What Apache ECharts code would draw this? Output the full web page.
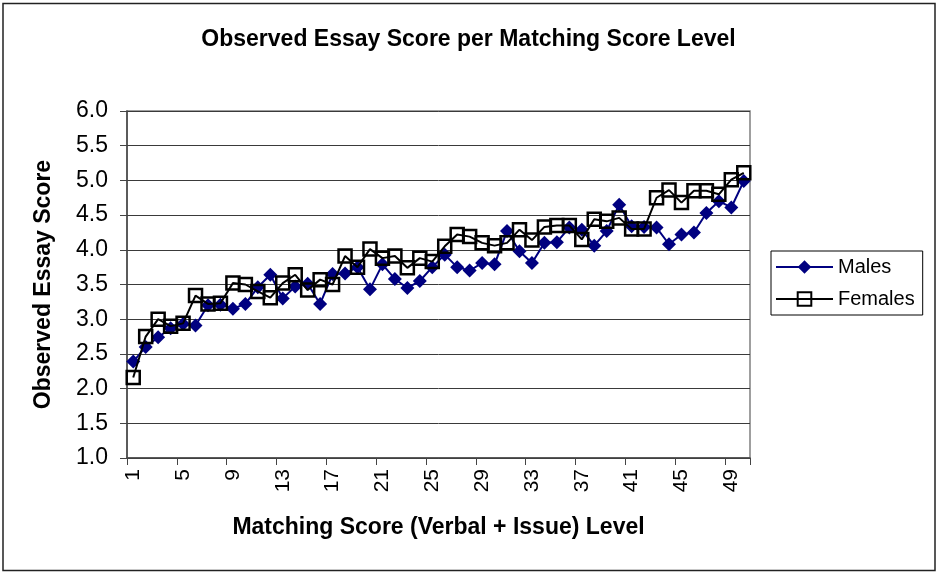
<!DOCTYPE html>
<html>
<head>
<meta charset="utf-8">
<script src="https://cdn.jsdelivr.net/npm/echarts@6/dist/echarts.min.js"></script>
<style>
html,body{margin:0;padding:0;background:#fff;}
#chart{width:937px;height:572px;}
</style>
</head>
<body>
<div id="chart"></div>
<script>
const categories = [];
for (let i = 1; i <= 50; i++) categories.push(String(i));

const males = [2.39,2.60,2.74,2.87,2.93,2.91,3.20,3.21,3.15,3.22,
               3.46,3.64,3.30,3.47,3.51,3.22,3.65,3.66,3.75,3.43,
               3.79,3.58,3.45,3.55,3.75,3.93,3.75,3.70,3.81,3.79,
               4.27,3.98,3.81,4.10,4.11,4.32,4.29,4.06,4.27,4.65,
               4.34,4.33,4.32,4.08,4.22,4.25,4.53,4.70,4.61,4.99];

const females = [2.16,2.75,3.00,2.90,2.94,3.34,3.22,3.23,3.52,3.50,
                 3.40,3.31,3.52,3.64,3.42,3.57,3.50,3.91,3.75,4.01,
                 3.88,3.91,3.74,3.88,3.83,4.05,4.22,4.19,4.10,4.06,
                 4.10,4.29,4.14,4.33,4.35,4.35,4.15,4.44,4.41,4.46,
                 4.30,4.30,4.75,4.86,4.68,4.85,4.85,4.80,5.01,5.11];

const FONT = '"Liberation Sans", Arial, sans-serif';
const chart = echarts.init(document.getElementById('chart'), null, {renderer: 'canvas'});
chart.setOption({
  backgroundColor: '#fff',
  animation: false,
  textStyle: {fontFamily: FONT, color: '#000'},
  title: {
    text: 'Observed Essay Score per Matching Score Level',
    left: 'center',
    top: 23,
    textStyle: {fontFamily: FONT, fontSize: 23, fontWeight: 'bold', color: '#000'}
  },
  graphic: [{
    type: 'rect',
    shape: {x: 3, y: 3.5, width: 932, height: 567},
    style: {fill: 'none', stroke: '#222', lineWidth: 1.5},
    silent: true, z: -1
  }],
  legend: {
    orient: 'vertical',
    left: 771, top: 251,
    padding: [6, 8, 6, 4],
    itemGap: 12,
    itemWidth: 57, itemHeight: 17,
    borderColor: '#000', borderWidth: 1,
    lineStyle: {width: 2},
    textStyle: {fontFamily: FONT, fontSize: 20, color: '#000'},
    data: ['Males', 'Females']
  },
  grid: {
    left: 127, right: 187, top: 111, bottom: 114,
    show: true, borderColor: '#808080', borderWidth: 1.5, backgroundColor: '#fff'
  },
  xAxis: {
    type: 'category',
    data: categories,
    boundaryGap: true,
    name: 'Matching Score (Verbal + Issue) Level',
    nameLocation: 'middle',
    nameGap: 58,
    nameTextStyle: {fontFamily: FONT, fontSize: 23, fontWeight: 'bold', color: '#000'},
    axisLine: {lineStyle: {color: '#444', width: 1.5}},
    axisTick: {show: true, interval: 3, length: 7, inside: false, lineStyle: {color: '#444'}},
    axisLabel: {interval: 3, rotate: 90, margin: 11, fontSize: 21, color: '#000', fontFamily: FONT},
    splitLine: {show: false}
  },
  yAxis: {
    type: 'value',
    min: 1, max: 6, interval: 0.5,
    name: 'Observed Essay Score',
    nameLocation: 'middle',
    nameGap: 72,
    nameRotate: 90,
    nameTextStyle: {fontFamily: FONT, fontSize: 23, fontWeight: 'bold', color: '#000'},
    axisLine: {show: true, lineStyle: {color: '#444', width: 1.5}},
    axisTick: {show: true, length: 7, lineStyle: {color: '#444'}},
    axisLabel: {margin: 19, fontSize: 23, color: '#000', fontFamily: FONT,
      formatter: v => v.toFixed(1)},
    splitLine: {show: true, lineStyle: {color: '#3a3a3a', width: 1}}
  },
  series: [
    {
      name: 'Males',
      type: 'line',
      data: males,
      symbol: 'diamond',
      symbolSize: 14,
      showAllSymbol: true,
      lineStyle: {color: '#000080', width: 2},
      itemStyle: {color: '#000080', borderWidth: 0},
      z: 2
    },
    {
      name: 'Females',
      type: 'line',
      data: females,
      symbol: 'rect',
      symbolSize: 13,
      showAllSymbol: true,
      lineStyle: {color: '#000', width: 2},
      itemStyle: {color: 'rgba(0,0,0,0)', borderColor: '#000', borderWidth: 2.5},
      z: 3
    }
  ]
});
</script>
</body>
</html>
